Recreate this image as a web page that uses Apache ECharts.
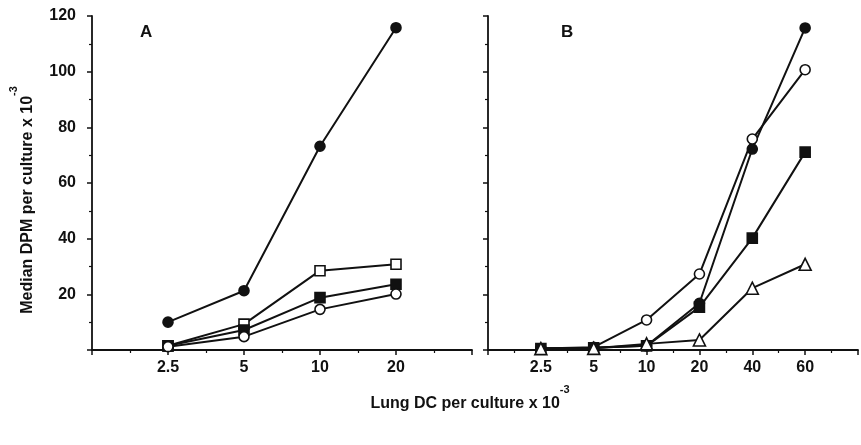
<!DOCTYPE html>
<html>
<head>
<meta charset="utf-8">
<script src="https://cdn.jsdelivr.net/npm/echarts@6/dist/echarts.min.js"></script>
<style>
  html, body { margin: 0; padding: 0; background: #fff; }
  #container { width: 861px; height: 445px; }
</style>
</head>
<body>
<div id="container"></div>
<script>
// x categories (cells per culture x 10^-3)
var catsA = ['2.5', '5', '10', '20'];
var catsB = ['2.5', '5', '10', '20', '40', '60'];

// panel A, median DPM x 10^-3
var aFilledCircle = [10, 21.3, 73.2, 115.8];
var aOpenSquare = [1.5, 9.3, 28.5, 30.8];
var aFilledSquare = [1.5, 7.2, 18.8, 23.6];
var aOpenCircle = [1.2, 4.8, 14.6, 20.1];

// panel B
var bFilledCircle = [0.5, 0.8, 1.5, 16.8, 72.2, 115.7];
var bOpenCircle = [0.5, 1, 10.8, 27.3, 75.8, 100.7];
var bFilledSquare = [0.5, 0.8, 1.5, 15.4, 40.2, 71.1];
var bTriangle = [0.5, 0.6, 2.2, 3.6, 22.2, 30.8];

var yTicks = [0, 20, 40, 60, 80, 100, 120];

var FONT = '"Liberation Sans", Arial, sans-serif';
var INK = '#111';

function pts(arr) {
    var out = [];
    for (var i = 0; i < arr.length; i++) {
        out.push([i + 1, arr[i]]);
    }
    return out;
}

function mkSeries(name, arr, idx, symbol, filled) {
    return {
        name: name,
        type: 'line',
        xAxisIndex: idx,
        yAxisIndex: idx,
        data: pts(arr),
        symbol: symbol,
        symbolSize: symbol == 'triangle' ? 12 : 10,
        showAllSymbol: true,
        lineStyle: {color: INK, width: 2},
        itemStyle: {color: filled ? INK : '#fff', borderColor: INK, borderWidth: 1.6},
        z: 3
    };
}

function xAxisFor(idx, cats, max) {
    return {
        type: 'value',
        gridIndex: idx,
        min: 0,
        max: max,
        interval: 1,
        splitLine: {show: false},
        axisLine: {lineStyle: {color: INK, width: 1.8}},
        axisTick: {length: 5, lineStyle: {color: INK, width: 1.5}},
        minorTick: {show: true, splitNumber: 2, length: 3, lineStyle: {color: INK, width: 1.2}},
        axisLabel: {
            margin: 10,
            color: INK,
            fontFamily: FONT,
            fontWeight: 'bold',
            fontSize: 16,
            formatter: function (v) {
                var k = Math.round(v) - 1;
                return (k >= 0 && k < cats.length) ? cats[k] : '';
            }
        }
    };
}

function yAxisFor(idx, labels) {
    return {
        type: 'value',
        gridIndex: idx,
        min: yTicks[0],
        max: yTicks[yTicks.length - 1],
        interval: yTicks[1] - yTicks[0],
        splitLine: {show: false},
        axisLine: {show: true, lineStyle: {color: INK, width: 1.8}},
        axisTick: {show: true, length: 5, lineStyle: {color: INK, width: 1.5}},
        minorTick: {show: true, splitNumber: 2, length: 3, lineStyle: {color: INK, width: 1.2}},
        axisLabel: {
            show: labels,
            margin: 16,
            color: INK,
            fontFamily: FONT,
            fontWeight: 'bold',
            fontSize: 16,
            formatter: function (v) { return v == 0 ? '' : String(v); }
        }
    };
}

var nameRich = {
    b: {font: 'bold 16px ' + FONT, fill: INK, lineHeight: 28, verticalAlign: 'bottom'},
    s: {font: 'bold 11px ' + FONT, fill: INK, lineHeight: 28, verticalAlign: 'top'}
};

var myChart = echarts.init(document.getElementById('container'));
var option = {
    backgroundColor: '#fff',
    animation: false,
    grid: [
        {left: 92, top: 16, width: 380, height: 334},
        {left: 488, top: 16, width: 381.5, height: 334}
    ],
    xAxis: [xAxisFor(0, catsA, 5), xAxisFor(1, catsB, 7)],
    yAxis: [yAxisFor(0, true), yAxisFor(1, false)],
    graphic: [
        {type: 'text', left: 140, top: 24, style: {text: 'A', font: 'bold 17px ' + FONT, fill: INK}},
        {type: 'text', left: 561, top: 24, style: {text: 'B', font: 'bold 17px ' + FONT, fill: INK}},
        {
            type: 'text', x: 22, y: 200, rotation: Math.PI / 2,
            style: {
                text: '{b|Median DPM per culture x 10}{s|-3}',
                align: 'center', verticalAlign: 'middle',
                rich: nameRich
            }
        },
        {
            type: 'text', x: 470, y: 398,
            style: {
                text: '{b|Lung DC per culture x 10}{s|-3}',
                align: 'center', verticalAlign: 'middle',
                rich: nameRich
            }
        }
    ],
    series: [
        mkSeries('A filled circle', aFilledCircle, 0, 'circle', true),
        mkSeries('A open square', aOpenSquare, 0, 'rect', false),
        mkSeries('A filled square', aFilledSquare, 0, 'rect', true),
        mkSeries('A open circle', aOpenCircle, 0, 'circle', false),
        mkSeries('B filled circle', bFilledCircle, 1, 'circle', true),
        mkSeries('B open circle', bOpenCircle, 1, 'circle', false),
        mkSeries('B filled square', bFilledSquare, 1, 'rect', true),
        mkSeries('B triangle', bTriangle, 1, 'triangle', false)
    ]
};
myChart.setOption(option);
</script>
</body>
</html>
